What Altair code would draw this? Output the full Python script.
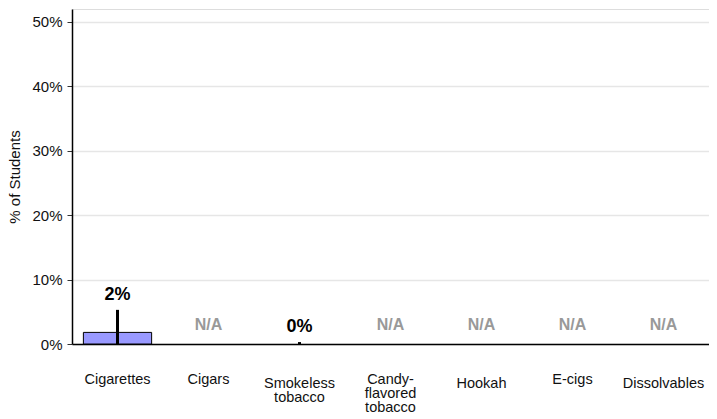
import altair as alt
import pandas as pd

categories = ["Cigarettes", "Cigars", "Smokeless tobacco", "Candy-flavored tobacco",
              "Hookah", "E-cigs", "Dissolvables"]
axis_labels = ["Cigarettes", "Cigars", "Smokeless\ntobacco", "Candy-\nflavored\ntobacco",
               "Hookah", "E-cigs", "Dissolvables"]
values = [1.8, None, 0.0, None, None, None, None]
err_low = [0.0, None, 0.0, None, None, None, None]
err_high = [5.3, None, 0.3, None, None, None, None]
labels = ["2%", "N/A", "0%", "N/A", "N/A", "N/A", "N/A"]
available = [True, False, True, False, False, False, False]

df = pd.DataFrame({
    "cat": categories,
    "value": values,
    "lo": err_low,
    "hi": err_high,
    "label": labels,
    "avail": available,
})
df["labely"] = df["hi"].fillna(0)

label_map = {c: l for c, l in zip(categories, axis_labels)}
expr = "{" + ",".join(f'"{c}": {list(l.split(chr(10)))}' for c, l in label_map.items()) + "}[datum.value]"
lowered = ["Smokeless tobacco", "Hookah", "Dissolvables"]
lower_test = " || ".join(f"datum.value == '{c}'" for c in lowered)

FONT = "Liberation Sans"

x = alt.X("cat:N", sort=categories, title=None,
          scale=alt.Scale(paddingInner=0.25, paddingOuter=0.125),
          axis=alt.Axis(labelExpr=expr, labelAngle=0, ticks=False,
                        labelPadding={"condition": {"test": lower_test, "value": 43}, "value": 39},
                        labelBaseline="alphabetic", labelFontSize=14.5, labelColor="#111",
                        labelFont=FONT, domainColor="#000", domainWidth=1.5, grid=False,
                        labelLimit=200, labelLineHeight=14.3))
yscale = alt.Scale(domain=[0, 52], nice=False, clamp=True)

base = alt.Chart(df)

bars = base.transform_filter("datum.avail && datum.value > 0").mark_bar(
    color="#9999ff", stroke="#000", strokeWidth=1
).encode(
    x=x,
    y=alt.Y("value:Q", scale=yscale, title="% of Students",
            axis=alt.Axis(values=[0, 10, 20, 30, 40, 50], labelExpr="datum.value + '%'",
                          labelFontSize=15, labelColor="#111", labelFont=FONT, labelPadding=5,
                          titleFont=FONT, titleFontSize=15, titleFontWeight="normal",
                          titleColor="#111", titlePadding=9,
                          domainColor="#000", domainWidth=1.5, tickSize=5, tickColor="#333",
                          gridColor="#e6e6e6", gridWidth=1.5)),
)

errs = base.transform_filter("datum.avail").mark_rule(color="#000", strokeWidth=3).encode(
    x=alt.X("cat:N", sort=categories),
    y=alt.Y("lo:Q", scale=yscale),
    y2="hi:Q",
)

txt_avail = base.transform_filter("datum.avail").mark_text(
    font=FONT, fontSize=18, fontWeight="bold", color="#000", baseline="middle", dy=-15
).encode(
    x=alt.X("cat:N", sort=categories),
    y=alt.Y("labely:Q", scale=yscale),
    text="label:N",
)

txt_na = base.transform_filter("!datum.avail").mark_text(
    font=FONT, fontSize=16, fontWeight="bold", color="#999999", baseline="middle", dy=-19
).encode(
    x=alt.X("cat:N", sort=categories),
    y=alt.Y("labely:Q", scale=yscale),
    text="label:N",
)

chart = alt.layer(bars, errs, txt_avail, txt_na).properties(
    width=637, height=335,
    autosize=alt.AutoSizeParams(type="none"),
    padding={"left": 64, "top": 1, "right": 0, "bottom": 68},
).configure_view(stroke=None).configure(background="white")

chart.save("out.html", embed_options={"renderer": "svg", "actions": False})
